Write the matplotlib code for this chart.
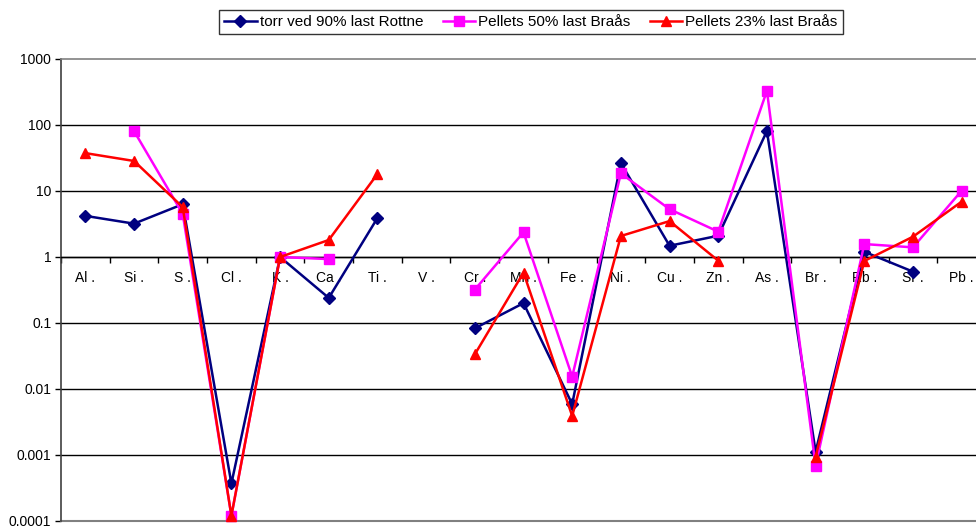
import numpy as np
import matplotlib
matplotlib.use("Agg")
import matplotlib.pyplot as plt

nan = np.nan

elements = ["Al", "Si", "S", "Cl", "K", "Ca", "Ti", "V", "Cr", "Mn",
            "Fe", "Ni", "Cu", "Zn", "As", "Br", "Rb", "Sr", "Pb"]
tick_labels = [e + " ." for e in elements]

torr_ved = [4.2, 3.2, 6.3, 0.00037, 1.0, 0.24, 3.9, nan, 0.083, 0.2,
            0.0059, 26.5, 1.48, 2.1, 81, 0.00112, 1.2, 0.6, nan]
pellets_50 = [nan, 81, 4.5, 0.00012, 1.0, 0.93, nan, nan, 0.32, 2.37,
              0.0154, 18.5, 5.3, 2.42, 330, 0.00069, 1.57, 1.4, 10.1]
pellets_23 = [37.5, 28.5, 5.7, 0.00012, 1.0, 1.81, 18.1, nan, 0.0335, 0.58,
              0.0039, 2.08, 3.5, 0.88, nan, 0.00094, 0.87, 2.03, 6.9]

series_names = ["torr ved 90% last Rottne", "Pellets 50% last Braås",
                "Pellets 23% last Braås"]

plt.rcParams["font.family"] = ["Liberation Sans", "DejaVu Sans"]

fig = plt.figure(figsize=(9.76, 5.29), dpi=100)
ax = fig.add_axes([61 / 976, 8 / 529, 925 / 976, 462 / 529])

x = np.arange(len(elements))
styles = [
    dict(color="#000080", marker="D", markersize=6.5),
    dict(color="#FF00FF", marker="s", markersize=7.5),
    dict(color="#FF0000", marker="^", markersize=6.5),
]
handles = []
for vals, name, st in zip([torr_ved, pellets_50, pellets_23], series_names, styles):
    h, = ax.plot(x, vals, lw=1.8, label=name, clip_on=False, zorder=3,
                 markeredgecolor=st["color"], **st)
    handles.append(h)

ax.set_yscale("log")
ax.set_ylim(1e-4, 1000)
ax.set_xlim(-0.5, len(elements) - 0.5)

yt = [1e-4, 1e-3, 1e-2, 1e-1, 1, 10, 100, 1000]
ax.set_yticks(yt)
ax.set_yticklabels(["0.0001", "0.001", "0.01", "0.1", "1", "10", "100", "1000"])
ax.yaxis.set_minor_locator(matplotlib.ticker.NullLocator())
ax.tick_params(axis="y", which="major", direction="out", length=4, width=1,
               labelsize=10, pad=3, colors="black")

for v in yt[1:-1]:
    ax.axhline(v, color="black", lw=1, zorder=1)

# category axis crosses the value axis at 1
ax.spines["bottom"].set_position(("data", 1))
ax.spines["bottom"].set_color("black")
ax.spines["bottom"].set_linewidth(1)
ax.set_xticks(np.arange(len(elements) + 1) - 0.5)
ax.set_xticklabels([])
ax.set_xticks(x, minor=True)
ax.set_xticklabels(tick_labels, minor=True)
ax.tick_params(axis="x", which="major", direction="out", length=4, width=1)
ax.tick_params(axis="x", which="minor", length=0, labelsize=10, pad=10)

ax.spines["left"].set_color("#404040")
ax.spines["left"].set_linewidth(1.2)
ax.spines["top"].set_color("#808080")
ax.spines["top"].set_linewidth(1.2)
ax.spines["right"].set_visible(False)
ax.axhline(1e-4, color="#808080", lw=1.5, clip_on=False, zorder=2)

leg = fig.legend(handles=handles, loc="center", bbox_to_anchor=(531 / 976, 1 - 22 / 529),
                 ncol=3, fontsize=11, frameon=True, fancybox=False, handlelength=2.1,
                 handletextpad=0.2, columnspacing=1.3, borderpad=0.35, borderaxespad=0)
leg.get_frame().set_edgecolor("black")
leg.get_frame().set_linewidth(1)

fig.savefig("out.png", dpi=100)
